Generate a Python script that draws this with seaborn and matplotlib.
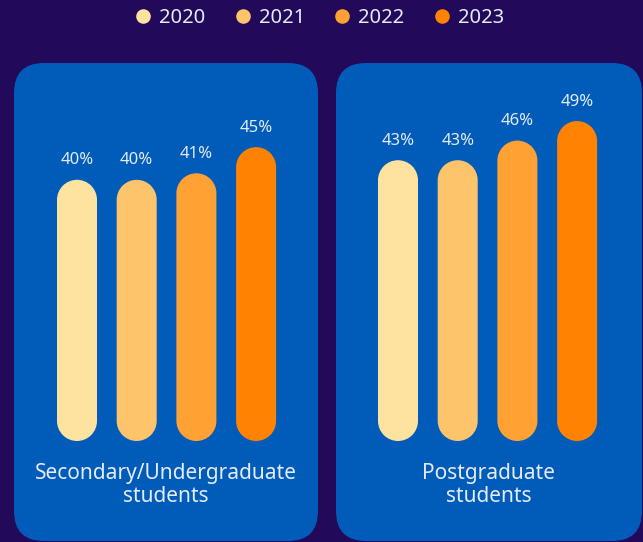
import matplotlib
matplotlib.use("Agg")
import matplotlib.pyplot as plt
import numpy as np
from matplotlib.patches import FancyBboxPatch, PathPatch
from matplotlib.path import Path
from matplotlib.lines import Line2D
from matplotlib.transforms import IdentityTransform
import seaborn as sns
import pandas as pd

years = ["2020", "2021", "2022", "2023"]
groups = ["Secondary/Undergraduate\nstudents", "Postgraduate\nstudents"]
undergrad = [40, 40, 41, 45]
postgrad = [43, 43, 46, 49]
bar_colors = ["#fee3a0", "#fec46b", "#ffa233", "#ff8200"]

BG = "#22095a"
PANEL = "#015cb9"
TEXT = "#e4ecf7"

sns.set_theme(style="white")
plt.rcParams["font.family"] = ["Noto Sans", "DejaVu Sans"]

W, H = 643, 542
fig = plt.figure(figsize=(W / 100, H / 100), dpi=100, facecolor=BG)

# panel rectangles in pixel coordinates (x0, x1), y measured from top
panels = [(14, 318), (336, 642)]
panel_top, panel_bot = 63, 541
zero_px = 441          # pixel row (from top) of the bar baseline
px_per_pct = 6.53
centers = [(77, 59.7), (398, 59.7)]  # first bar centre and spacing per panel

data = [undergrad, postgrad]


def pill_path(cx, y0, y1, rx, ry):
    """Closed capsule outline in data units with semicircular ends."""
    top = Path.arc(0, 180)
    bot = Path.arc(180, 360)
    tv = top.vertices * [rx, ry] + [cx, y1 - ry]
    bv = bot.vertices * [rx, ry] + [cx, y0 + ry]
    bc = bot.codes.copy()
    bc[0] = Path.LINETO
    verts = np.vstack([tv, bv, tv[:1]])
    codes = np.concatenate([top.codes, bc, [Path.CLOSEPOLY]])
    return Path(verts, codes)


for (x0, x1), (c0, step), vals, label in zip(panels, centers, data, groups):
    # rounded panel background, kept underneath the axes
    fig.patches.append(FancyBboxPatch(
        (x0, H - panel_bot), x1 - x0, panel_bot - panel_top,
        boxstyle="round,pad=0,rounding_size=30",
        transform=IdentityTransform(), facecolor=PANEL, edgecolor="none",
        zorder=-5, figure=fig))

    ax = fig.add_axes([x0 / W, (H - zero_px) / H, (x1 - x0) / W,
                       (zero_px - panel_top) / H])
    ax.set_facecolor("none")
    ax.set_zorder(2)
    df = pd.DataFrame({"year": years, "value": vals})
    sns.barplot(data=df, x="year", y="value", hue="year", palette=bar_colors,
                width=40 / step, legend=False, ax=ax, saturation=1)
    ax.set_xlim((x0 - c0) / step, (x1 - c0) / step)
    ax.set_ylim(0, (zero_px - panel_top) / px_per_pct)
    ax.axis("off")

    # replace each seaborn bar with a capsule of the same extent
    aspect = (1 / px_per_pct) / (1 / step)
    for p in list(ax.patches):
        bx, by = p.get_x(), p.get_y()
        bw, bh = p.get_width(), p.get_height()
        fc = p.get_facecolor()
        p.remove()
        cx = bx + bw / 2
        ax.add_patch(PathPatch(pill_path(cx, by, by + bh, bw / 2,
                                         bw / 2 * aspect),
                               facecolor=fc, edgecolor="none", lw=0))
        ax.annotate(f"{bh:.0f}%", (cx, by + bh), xytext=(0, 14),
                    textcoords="offset points", ha="center", va="center",
                    color=TEXT, fontsize=12)

    fig.text((x0 + x1) / 2 / W, 1 - 485 / H, label, ha="center", va="center",
             color=TEXT, fontsize=15, linespacing=1.17, zorder=3)

handles = [Line2D([], [], marker="o", linestyle="none", markersize=10.5,
                  markerfacecolor=c, markeredgecolor="none") for c in bar_colors]
fig.legend(handles, years, loc="center",
           bbox_to_anchor=(0.5 - 3 / W, 1 - 18 / H),
           ncol=4, frameon=False, fontsize=14.5, labelcolor=TEXT,
           handletextpad=0.3, columnspacing=1.35, handlelength=1.0)

fig.savefig("out.png", dpi=100, facecolor=BG)
